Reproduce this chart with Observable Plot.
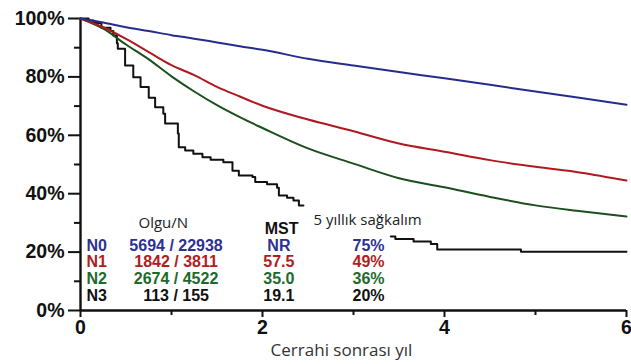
<!DOCTYPE html>
<html>
<head>
<meta charset="utf-8">
<script src="https://cdn.jsdelivr.net/npm/d3@7"></script>
<script src="https://cdn.jsdelivr.net/npm/@observablehq/plot@0.6"></script>
<style>
  html, body { margin: 0; padding: 0; background: #fff; }
  #chart svg { display: block; }
</style>
</head>
<body>
<div id="chart"></div>
<script>
// ---- data ----
const times = [0, 0.25, 0.5, 0.75, 1, 1.25, 1.5, 1.75, 2, 2.5, 3, 3.5, 4, 4.5, 5, 5.5, 6];
const n0 = [100, 98.6, 97, 95.7, 94.3, 93.1, 91.8, 90.5, 89.3, 86.2, 83.9, 81.7, 79.5, 77.3, 75, 72.8, 70.5];
const n1 = [100, 97, 93, 88.5, 84, 80.6, 76.6, 73.3, 70.1, 65.4, 61.4, 57.2, 54.4, 51.5, 49.2, 47.2, 44.5];
const n2 = [100, 96.5, 91.1, 86, 80.2, 75, 70.3, 66.2, 62.5, 55.5, 50.3, 45.3, 42.2, 38.9, 36, 34, 32.2];
const n3Times = [0, 0.09, 0.14, 0.23, 0.33, 0.36, 0.40, 0.41, 0.49, 0.58, 0.66, 0.75, 0.82, 0.91, 0.93, 1.07, 1.08, 1.15, 1.24, 1.34, 1.43, 1.57, 1.67, 1.74, 1.89, 1.92, 2.05, 2.16, 2.18, 2.27, 2.34, 2.40, 2.45];
const n3Vals  = [100, 99.3, 98.5, 96.8, 95.7, 94.2, 91.5, 89.6, 83.9, 79.9, 76.5, 72.9, 69.6, 67.4, 64, 60.6, 55.9, 54.8, 53.7, 52.5, 51.6, 50.8, 47.9, 46.2, 45.7, 44, 43.2, 42, 39.4, 38.6, 37.7, 36, 36];
const n3bTimes = [3.41, 3.46, 3.66, 3.85, 3.92, 4.84, 6];
const n3bVals  = [25.3, 24.5, 23.6, 22.8, 20.9, 20.1, 20.1];

const groups = ["N0", "N1", "N2", "N3"];
const olgu = ["5694 / 22938", "1842 / 3811", "2674 / 4522", "113 / 155"];
const mst = ["NR", "57.5", "35.0", "19.1"];
const fiveYr = ["75%", "49%", "36%", "20%"];
const yTicks = [0, 20, 40, 60, 80, 100];
const yMinor = [10, 30, 50, 70, 90];
const xTicks = [0, 2, 4, 6];
const xMinor = [1, 3, 5];
const headOlgu = "Olgu/N";
const headMst = "MST";
const headFive = "5 yıllık sağkalım";
const xTitle = "Cerrahi sonrası yıl";

// ---- styles / layout ----
const textColors = ["#2e3192", "#b01e23", "#1d6a2b", "#111111"];
const lineColors = { N0: "#272c8c", N1: "#b0191f", N2: "#1b4f1e", N3: "#111111", N3b: "#111111" };
const rowY = [22.3, 16.5, 10.85, 5.15];
const colX = [0.066, 1.05, 2.18, 3.165];
const boldFont = "'Liberation Sans', Arial, sans-serif";
const normFont = "'Open Sans', 'Noto Sans', sans-serif";

// ---- build tables ----
const smooth = [];
[["N0", n0], ["N1", n1], ["N2", n2]].forEach(([g, vals]) => {
  times.forEach((t, i) => smooth.push({ g, t, s: vals[i] }));
});
const steps = [];
n3Times.forEach((t, i) => steps.push({ g: "N3", t, s: n3Vals[i] }));
n3bTimes.forEach((t, i) => steps.push({ g: "N3b", t, s: n3bVals[i] }));

const rows = groups.map((g, i) => ({
  g, olgu: olgu[i], mst: mst[i], five: fiveYr[i], color: textColors[i], y: rowY[i]
}));

const bold = { fontFamily: boldFont, fontWeight: "bold", fontSize: 16, lineAnchor: "middle", letterSpacing: 0.4 };

const chart = Plot.plot({
  width: 631,
  height: 364,
  marginLeft: 80,
  marginRight: 5,
  marginTop: 18,
  marginBottom: 54,
  x: { domain: [0, 6] },
  y: { domain: [0, 100] },
  color: { type: "identity" },
  style: { fontFamily: boldFont, background: "#fff", color: "#111" },
  marks: [
    Plot.axisY({ ticks: yTicks, tickSize: 12, tickPadding: 4, tickFormat: d => d + "%", fontSize: 19.5, fontWeight: "bold", strokeWidth: 2, label: null }),
    Plot.axisY({ ticks: yMinor, tickSize: 6, tickFormat: () => "", strokeWidth: 2, label: null }),
    Plot.axisX({ ticks: xTicks, tickSize: 7, tickPadding: 3, tickFormat: d => String(d), fontSize: 19.5, fontWeight: "bold", strokeWidth: 2, label: null }),
    Plot.axisX({ ticks: xMinor, tickSize: 5, tickFormat: () => "", strokeWidth: 2, label: null }),
    Plot.ruleX([0], { y1: 0, y2: 100, stroke: "#111", strokeWidth: 2.4 }),
    Plot.ruleY([0], { x1: 0, x2: 6, stroke: "#111", strokeWidth: 2.4 }),
    Plot.line(steps, { x: "t", y: "s", z: "g", stroke: d => lineColors[d.g], strokeWidth: 2, curve: "step-after" }),
    Plot.line(smooth.filter(d => d.g === "N2"), { x: "t", y: "s", stroke: lineColors.N2, strokeWidth: 2, curve: "monotone-x" }),
    Plot.line(smooth.filter(d => d.g === "N1"), { x: "t", y: "s", stroke: lineColors.N1, strokeWidth: 2, curve: "monotone-x" }),
    Plot.line(smooth.filter(d => d.g === "N0"), { x: "t", y: "s", stroke: lineColors.N0, strokeWidth: 2, curve: "monotone-x" }),
    // table headers
    Plot.text([headOlgu], { x: 0.91, y: 29.8, text: d => d, fontFamily: normFont, fontSize: 15, fill: "#222", lineAnchor: "middle" }),
    Plot.text([headMst], { x: 2.21, y: 28.1, text: d => d, ...bold, fill: "#111" }),
    Plot.text([headFive], { x: 2.56, y: 30.8, text: d => d, fontFamily: normFont, fontSize: 15, fill: "#222", textAnchor: "start", lineAnchor: "middle" }),
    // table rows
    Plot.text(rows, { x: () => colX[0], y: "y", text: "g", fill: "color", textAnchor: "start", ...bold }),
    Plot.text(rows, { x: () => colX[1], y: "y", text: "olgu", fill: "color", ...bold }),
    Plot.text(rows, { x: () => colX[2], y: "y", text: "mst", fill: "color", ...bold }),
    Plot.text(rows, { x: () => colX[3], y: "y", text: "five", fill: "color", ...bold }),
    // x title
    Plot.text([xTitle], { frameAnchor: "bottom", dy: 45, dx: -12, text: d => d, fontFamily: normFont, fontSize: 17, fill: "#333" })
  ]
});
document.getElementById("chart").appendChild(chart);
</script>
</body>
</html>
